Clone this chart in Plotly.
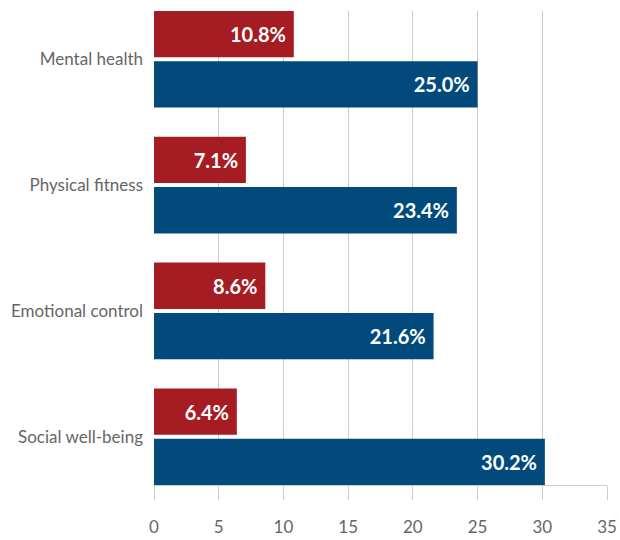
import plotly.graph_objects as go

categories = ["Mental health", "Physical fitness", "Emotional control", "Social well-being"]
red_values = [10.8, 7.1, 8.6, 6.4]
blue_values = [25.0, 23.4, 21.6, 30.2]
x_ticks = [0, 5, 10, 15, 20, 25, 30, 35]

RED = "#A51C22"
BLUE = "#034A7C"
GRID = "#CCCCCC"

fig = go.Figure()
for name, vals, color in [("Group 1", red_values, RED), ("Group 2", blue_values, BLUE)]:
    fig.add_trace(go.Bar(
        y=categories,
        x=vals,
        name=name,
        orientation="h",
        marker=dict(color=color, line=dict(width=0)),
        # trailing no-break space keeps the label a little off the bar end
        text=[f"{v:.1f}%\u00a0" for v in vals],
        textposition="inside",
        insidetextanchor="end",
        textfont=dict(family="Lato", size=20, color="white", weight="bold"),
        cliponaxis=False,
        hoverinfo="skip",
    ))

fig.update_layout(
    width=620,
    height=540,
    margin=dict(l=154, r=13, t=11, b=55),
    barmode="group",
    bargap=0.2,
    bargroupgap=0.08,
    showlegend=False,
    plot_bgcolor="white",
    paper_bgcolor="white",
    font=dict(family="Lato", color="#666666"),
)

fig.update_xaxes(
    range=[0, 35],
    tickvals=x_ticks,
    ticktext=[str(t) for t in x_ticks],
    showgrid=True,
    gridcolor=GRID,
    gridwidth=1,
    zeroline=False,
    showline=True,
    linecolor=GRID,
    linewidth=1,
    ticks="outside",
    ticklen=14,
    tickcolor=GRID,
    tickfont=dict(family="Lato", size=17, color="#666666"),
    ticklabelstandoff=13,
    automargin=False,
)

fig.update_yaxes(
    categoryorder="array",
    categoryarray=categories,
    range=[3.384, -0.384],
    showgrid=False,
    zeroline=False,
    showline=False,
    ticks="",
    tickfont=dict(family="Lato", size=17, color="#666666"),
    ticklabelstandoff=10,
    automargin=False,
)

fig.write_html("out.html")
